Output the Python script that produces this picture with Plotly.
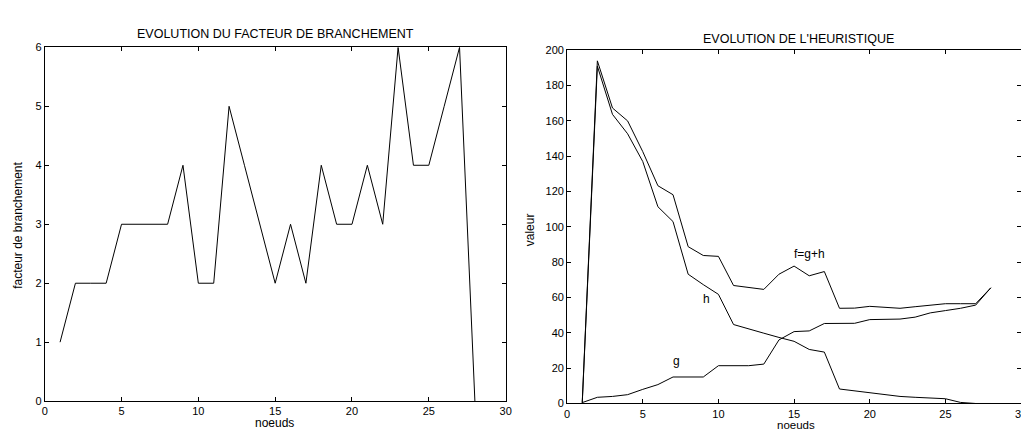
import plotly.graph_objects as go

# ---- data: left chart (branching factor) ----
noeuds_left = list(range(1, 29))
facteur = [1, 2, 2, 2, 3, 3, 3, 3, 4, 2, 2, 5, 4, 3, 2, 3, 2, 4, 3, 3, 4, 3, 6, 4, 4, 5, 6, 0]

# ---- data: right chart (heuristic) ----
noeuds_right = list(range(1, 29))
f_vals = [0.5, 194, 167.3, 160, 142.6, 123.3, 118.2, 88.8, 83.8, 83.3, 66.8, 65.9, 64.6, 73.2,
          77.8, 72.3, 74.7, 53.9, 54.0, 55.0, 54.5, 53.9, 54.8, 55.7, 56.5, 56.5, 56.5, 65.5]
h_vals = [0, 191, 163.7, 152.7, 137, 111.4, 103, 73.2, 67.3, 61.8, 44.7, 42.1, 39.8, 37.4,
          35.2, 30.6, 29.1, 8.2, 7.1, 5.8, 4.9, 4.0, 3.5, 3.3, 2.7, 0.6, 0, 0]
g_vals = [0.5, 3.5, 4, 5, 8, 10.7, 15, 15, 15, 21.4, 21.4, 21.4, 22.3, 36,
          40.7, 41.1, 45.3, 45.3, 45.4, 47.5, 47.8, 47.8, 48.9, 51.3, 52.6, 53.9, 55.7, 65.5]

left_title = "EVOLUTION DU FACTEUR DE BRANCHEMENT"
right_title = "EVOLUTION DE L'HEURISTIQUE"

W, H = 1029, 429
FONT = "Liberation Sans, Arial, Helvetica, sans-serif"

fig = go.Figure()
line_style = dict(color="black", width=1)
fig.add_trace(go.Scatter(x=noeuds_left, y=facteur, mode="lines", line=line_style,
                         xaxis="x", yaxis="y", showlegend=False))
fig.add_trace(go.Scatter(x=noeuds_right, y=f_vals, mode="lines", line=line_style,
                         xaxis="x2", yaxis="y2", showlegend=False))
fig.add_trace(go.Scatter(x=noeuds_right, y=h_vals, mode="lines", line=line_style,
                         xaxis="x2", yaxis="y2", showlegend=False))
fig.add_trace(go.Scatter(x=noeuds_right, y=g_vals, mode="lines", line=line_style,
                         xaxis="x2", yaxis="y2", showlegend=False))

def px_x(p):
    return p / W

def px_y(p):
    return 1 - p / H

axis_common = dict(showline=True, linecolor="black", linewidth=1, mirror="ticks",
                   ticks="inside", ticklen=4, tickcolor="black", showgrid=False,
                   zeroline=False, tickfont=dict(size=11, color="black", family=FONT))

fig.update_layout(
    width=W, height=H,
    margin=dict(l=0, r=0, t=0, b=0),
    paper_bgcolor="white", plot_bgcolor="white",
    font=dict(family=FONT, color="black", size=11),
    xaxis=dict(domain=[px_x(34), px_x(499)], range=[0, 30], tickvals=[0, 5, 10, 15, 20, 25, 30],
               anchor="y", **axis_common),
    yaxis=dict(domain=[px_y(398.3), px_y(34.3)], range=[0, 6], tickvals=[0, 1, 2, 3, 4, 5, 6],
               anchor="x", **axis_common),
    xaxis2=dict(domain=[px_x(561), px_x(1019)], range=[0, 30], tickvals=[0, 5, 10, 15, 20, 25, 30],
                anchor="y2", **axis_common),
    yaxis2=dict(domain=[px_y(400.7), px_y(37.3)], range=[0, 200],
                tickvals=list(range(0, 201, 20)), anchor="x2", **axis_common),
)

def ann(text, x, y, size, xref="paper", yref="paper", angle=0):
    return dict(text=text, x=x, y=y, xref=xref, yref=yref, showarrow=False,
                xanchor="center", yanchor="middle", textangle=angle,
                font=dict(size=size, family=FONT, color="black"))

annotations = [
    ann(left_title, px_x(267), px_y(21), 12.5),
    ann(right_title, px_x(794), px_y(26), 12.5),
    ann("noeuds", px_x(266), px_y(421), 12),
    ann("noeuds", px_x(792), px_y(423), 11.5),
    ann("facteur de branchement", px_x(7), px_y(217), 12, angle=-90),
    ann("valeur", px_x(523), px_y(222), 12, angle=-90),
    ann("f=g+h", 16.0, 84.5, 12, xref="x2", yref="y2"),
    ann("h", 9.2, 59, 12, xref="x2", yref="y2"),
    ann("g", 7.2, 24, 12, xref="x2", yref="y2"),
]
fig.update_layout(annotations=annotations)

fig.write_html("out.html")
